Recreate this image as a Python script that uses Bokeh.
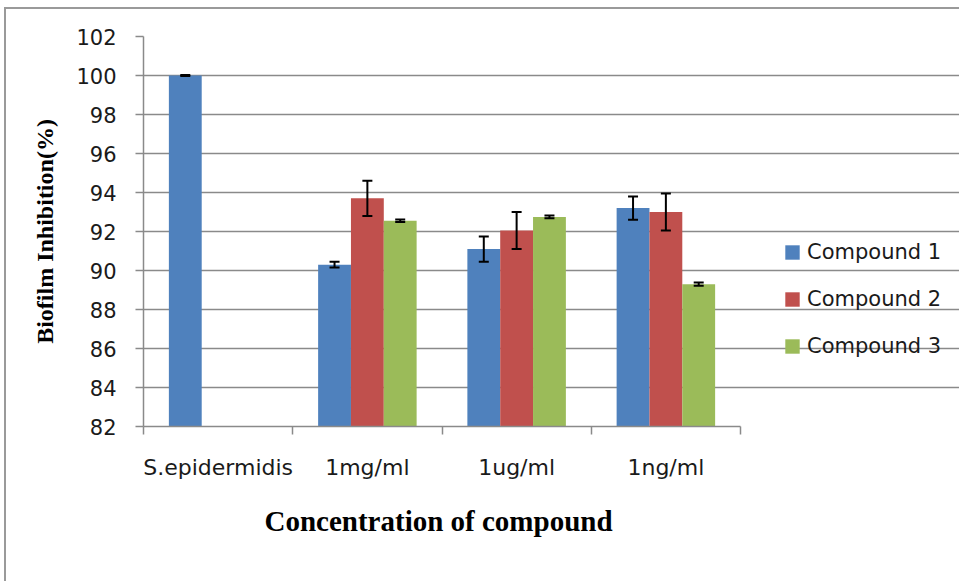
from bokeh.plotting import figure
from bokeh.models import (ColumnDataSource, Whisker, TeeHead, FixedTicker, Range1d,
                          Legend, LegendItem, Title)
from bokeh.embed import file_html
from bokeh.resources import INLINE

categories = ["S.epidermidis", "1mg/ml", "1ug/ml", "1ng/ml"]
series_names = ["Compound 1", "Compound 2", "Compound 3"]
compound1 = [100.0, 90.3, 91.1, 93.2]
compound2 = [None, 93.7, 92.05, 93.0]
compound3 = [None, 92.55, 92.75, 89.3]
err1 = [0.03, 0.15, 0.65, 0.6]
err2 = [None, 0.9, 0.95, 0.95]
err3 = [None, 0.06, 0.07, 0.08]
y_ticks = list(range(82, 103, 2))
x_title = "Concentration of compound"
y_title = "Biofilm Inhibition(%)"

colors = ["#4F81BD", "#C0504D", "#9BBB59"]
offsets = [-0.22, 0.0, 0.22]
bar_w = 0.22

W, H = 955, 574
left_b = 137
plot_w = 597  # pixel width of the category area
frame_w = W - left_b
n = len(categories)
x_end = n * frame_w / plot_w

p = figure(width=W, height=H, output_backend="svg", toolbar_location=None,
           x_range=Range1d(0, x_end), y_range=Range1d(82, 102),
           min_border_left=left_b, min_border_right=0, min_border_top=27,
           min_border_bottom=157)
p.styles = {"border-top": "2px solid #9a9a9a", "border-left": "2px solid #9a9a9a",
            "margin-top": "7px", "margin-left": "4px"}
p.outline_line_color = None
p.background_fill_color = "white"
p.border_fill_color = "white"

items = []
for vals, errs, name, col, off in zip([compound1, compound2, compound3],
                                       [err1, err2, err3], series_names, colors, offsets):
    xs, tops, lo, hi = [], [], [], []
    for i, (v, e) in enumerate(zip(vals, errs)):
        if v is None:
            continue
        xs.append(i + 0.5 + off)
        tops.append(v)
        lo.append(v - e)
        hi.append(v + e)
    src = ColumnDataSource(dict(x=xs, top=tops, lower=lo, upper=hi))
    r = p.vbar(x="x", top="top", bottom=82, width=bar_w, source=src,
               fill_color=col, line_color=None)
    items.append(LegendItem(label=name, renderers=[r]))
    w = Whisker(base="x", lower="lower", upper="upper", source=src,
                line_color="black", line_width=2, level="overlay",
                upper_head=TeeHead(size=10, line_color="black", line_width=2),
                lower_head=TeeHead(size=10, line_color="black", line_width=2))
    p.add_layout(w)

# grid
p.xgrid.grid_line_color = None
p.ygrid.grid_line_color = "#8a8a8a"
p.ygrid.grid_line_width = 1.5
p.ygrid.ticker = FixedTicker(ticks=y_ticks)
p.ygrid.bounds = (0, n)

# y axis
p.yaxis.ticker = FixedTicker(ticks=y_ticks)
p.yaxis.axis_line_color = "#8a8a8a"
p.yaxis.axis_line_width = 1.5
p.yaxis.major_tick_line_color = "#8a8a8a"
p.yaxis.major_tick_line_width = 1.5
p.yaxis.major_tick_out = 8
p.yaxis.major_tick_in = 0
p.yaxis.minor_tick_line_color = None
p.yaxis.major_label_text_font = "DejaVu Sans"
p.yaxis.major_label_text_font_size = "21px"
p.yaxis.major_label_text_color = "#1a1a1a"
p.yaxis.major_label_standoff = 19
p.yaxis.axis_label = y_title
p.yaxis.axis_label_text_font = "Liberation Serif"
p.yaxis.axis_label_text_font_style = "bold"
p.yaxis.axis_label_text_font_size = "24px"
p.yaxis.axis_label_text_color = "black"
p.yaxis.axis_label_standoff = 15

# x axis
centers = [i + 0.5 for i in range(n)]
bounds = list(range(n + 1))
p.xaxis.bounds = (0, n)
p.xaxis.ticker = FixedTicker(ticks=centers, minor_ticks=bounds)
p.xaxis.major_label_overrides = {c: lab for c, lab in zip(centers, categories)}
p.xaxis.axis_line_color = "#8a8a8a"
p.xaxis.axis_line_width = 1.5
p.xaxis.major_tick_line_color = None
p.xaxis.major_tick_out = 0
p.xaxis.major_tick_in = 0
p.xaxis.minor_tick_line_color = "#8a8a8a"
p.xaxis.minor_tick_line_width = 1.5
p.xaxis.minor_tick_out = 8
p.xaxis.minor_tick_in = 0
p.xaxis.major_label_text_font = "DejaVu Sans"
p.xaxis.major_label_text_font_size = "22px"
p.xaxis.major_label_text_color = "#1a1a1a"
p.xaxis.major_label_standoff = 20

spacer = Title(text=" ", text_font_size="6px", standoff=0)
p.add_layout(spacer, "below")
xt = Title(text=x_title, align="left", offset=121, text_font="Liberation Serif",
           text_font_style="bold", text_font_size="29px", text_color="black",
           standoff=25)
p.add_layout(xt, "below")

legend = Legend(items=items, location=(640, 68), orientation="vertical",
                glyph_width=18, glyph_height=18, label_standoff=6,
                label_text_font="DejaVu Sans", label_text_font_size="21px",
                label_text_color="#1a1a1a", label_height=18, spacing=23,
                padding=0, margin=0, border_line_color=None,
                background_fill_alpha=0)
p.add_layout(legend, "center")

open("out.html", "w").write(file_html(p, INLINE))
